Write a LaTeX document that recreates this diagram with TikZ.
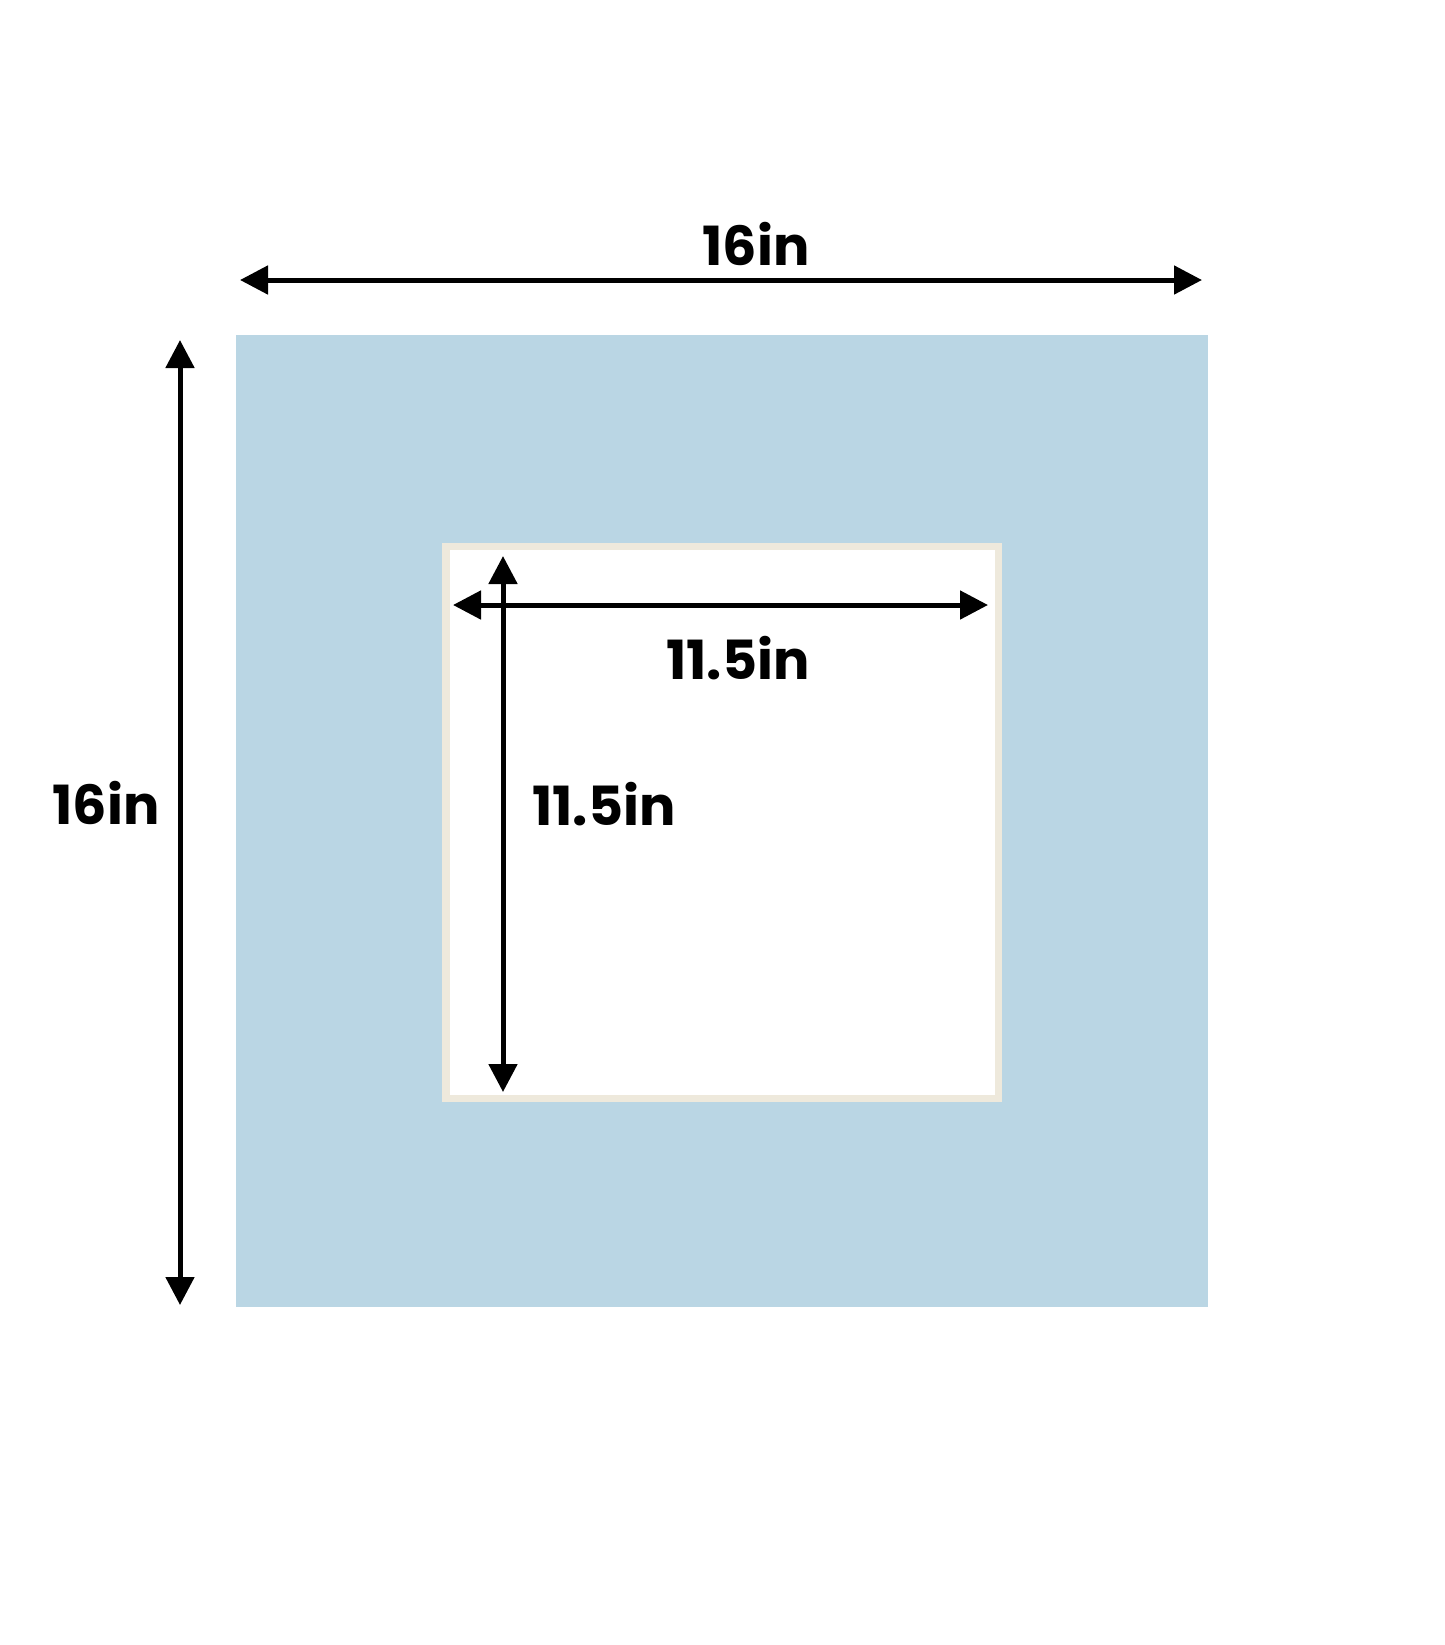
\documentclass[tikz,border=0pt]{standalone}
\usepackage{fontspec}
\newfontfamily\lab{Poppins}
\usetikzlibrary{arrows.meta}
\definecolor{matblue}{RGB}{186,214,228}
\definecolor{bevel}{RGB}{238,233,220}
\tikzset{
  dim/.style={line width=2.5pt, {Triangle[length=14pt,width=14pt]}-{Triangle[length=14pt,width=14pt]}},
  lbl/.style={font=\lab\bfseries\fontsize{27}{29}\selectfont, inner sep=0pt, text=black},
  board/.style={inner sep=0pt, outer sep=0pt, draw=none}
}
\begin{document}
\begin{tikzpicture}[x=0.5pt,y=-0.5pt]
\useasboundingbox[fill=white] (0,0) rectangle (1445,1645);
% mat
\node[board, fill=matblue, minimum width=486pt, minimum height=486pt] (mat) at (722,821) {};
% window bevel and opening
\node[board, fill=bevel, minimum width=280pt, minimum height=279.5pt] (bev) at (722,822.5) {};
\node[board, fill=white, minimum width=272.5pt, minimum height=272.5pt] (win) at (722.5,822.5) {};
% named ends
\coordinate (tl) at (240,280);
\coordinate (tr) at (1202,280);
\coordinate (lt) at (180,340);
\coordinate (lb) at (180,1305);
\coordinate (hl) at (453,605);
\coordinate (hr) at (988,605);
\coordinate (vt) at (503,556);
\coordinate (vb) at (503,1092);
\draw[dim] (tl) -- (tr);
\draw[dim] (lt) -- (lb);
\draw[dim] (hl) -- (hr);
\draw[dim] (vt) -- (vb);
\node[lbl] (t16) at (756,244) {16in};
\node[lbl] (l16) at (106,803) {16in};
\node[lbl] (h115) at (738,658) {11.5in};
\node[lbl] (v115) at (604,804) {11.5in};
\end{tikzpicture}
\end{document}
